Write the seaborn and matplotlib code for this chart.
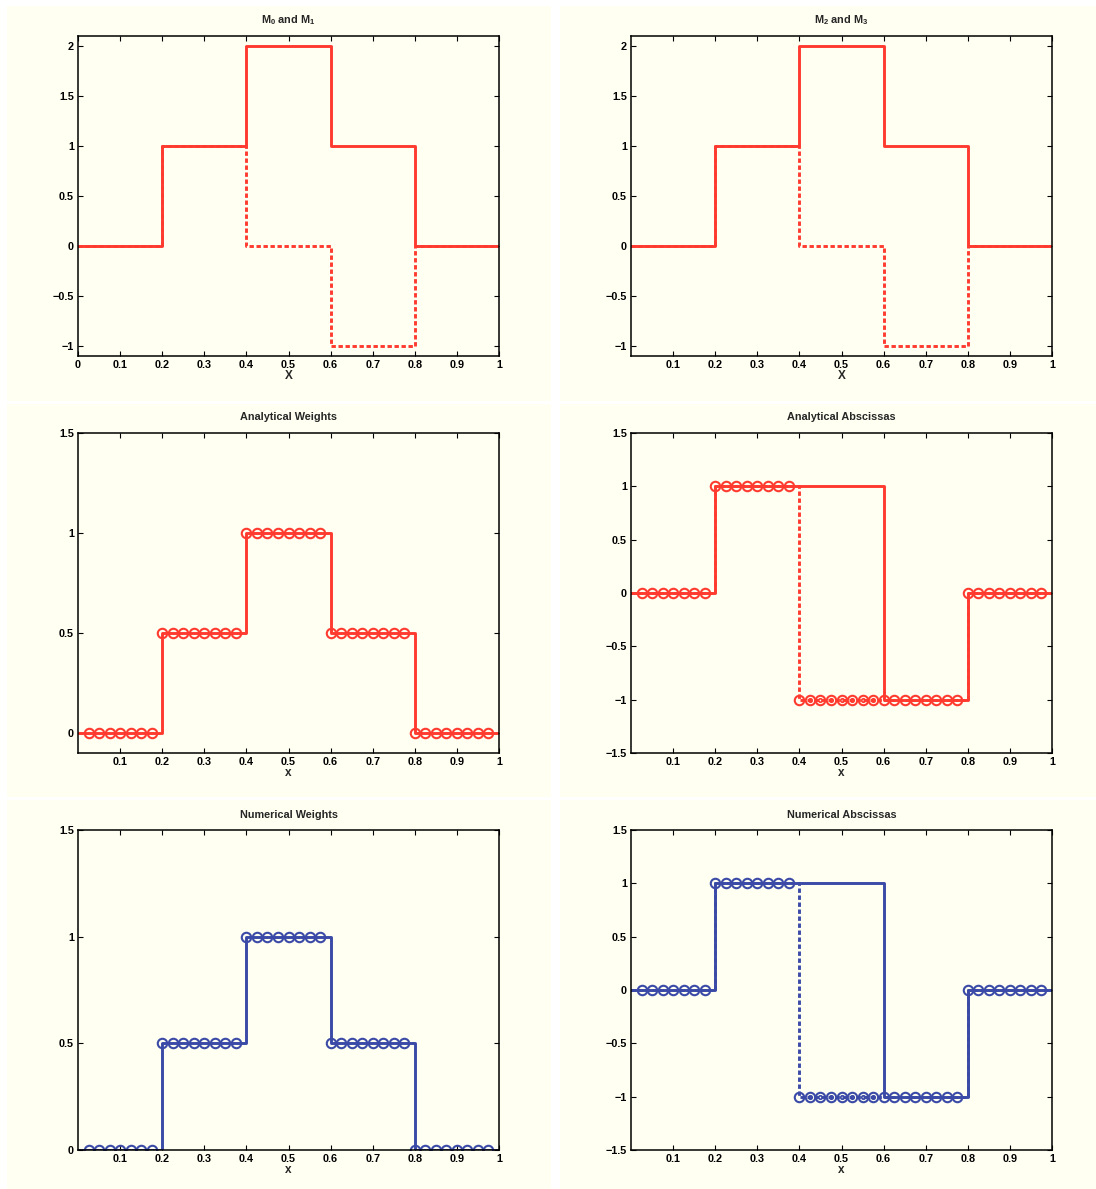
import numpy as np
import pandas as pd
import matplotlib.pyplot as plt
import matplotlib.patches as mpatches
import seaborn as sns

# step functions: value on each interval [edge_i, edge_i+1), last value repeated at x=1
edges = [0, 0.2, 0.4, 0.6, 0.8, 1.0]
m0 = [0, 1, 2, 1, 0, 0]
m1 = [0, 1, 0, -1, 0, 0]
m2 = [0, 1, 2, 1, 0, 0]
m3 = [0, 1, 0, -1, 0, 0]
weights = [0, 0.5, 1, 0.5, 0, 0]
absc_solid = [0, 1, 1, -1, 0, 0]
absc_dash = [0, 1, -1, -1, 0, 0]

# sample points (circles)
x_pts = np.round(np.arange(1, 40) * 0.025, 3)
weight_pts = [0] * 7 + [0.5] * 8 + [1] * 8 + [0.5] * 8 + [0] * 8
absc_pts = [0] * 7 + [1] * 8 + [-1] * 16 + [0] * 8
inner_x = [0.425, 0.45, 0.475, 0.5, 0.525, 0.55, 0.575]
inner_y = [-1] * 7

red = '#ff3b30'
blue = '#3a4aa6'
cream = '#fffff2'

sns.set_style('ticks')
plt.rcParams['font.family'] = ['Liberation Sans', 'DejaVu Sans']
plt.rcParams['font.weight'] = 'bold'
plt.rcParams['mathtext.fontset'] = 'custom'
plt.rcParams['mathtext.rm'] = 'Liberation Sans:bold'
plt.rcParams['mathtext.bf'] = 'Liberation Sans:bold'
plt.rcParams['mathtext.default'] = 'bf'

fig = plt.figure(figsize=(10.96, 11.89), dpi=100, facecolor='white')
W, H = 1096, 1189

# cream panel backgrounds
for (x0, x1) in [(7, 551), (560, 1096)]:
    for (y0, y1) in [(6, 401), (404, 797), (800, 1189)]:
        fig.patches.append(mpatches.Rectangle((x0 / W, 1 - y1 / H), (x1 - x0) / W, (y1 - y0) / H,
                                              transform=fig.transFigure, facecolor=cream,
                                              edgecolor='none', zorder=-10))


def make_ax(left, top):
    ax = fig.add_axes([left / W, 1 - (top + 320) / H, 421 / W, 320 / H])
    ax.set_facecolor(cream)
    for s in ax.spines.values():
        s.set_color('black')
        s.set_linewidth(1.1)
    ax.tick_params(direction='in', length=3.5, width=0.8, top=True, right=True,
                   labelsize=7.8, pad=3, colors='black')
    ax.set_xlim(0, 1)
    return ax


def step(ax, y, color, dashed=False):
    df = pd.DataFrame({'x': edges, 'y': y})
    ls = (0, (1.5, 0.9)) if dashed else '-'
    sns.lineplot(data=df, x='x', y='y', drawstyle='steps-post', color=color, linewidth=2.1,
                 linestyle=ls, estimator=None, sort=False, ax=ax)


def circles(ax, xs, ys, color, size=6.8, mew=1.5):
    df = pd.DataFrame({'x': xs, 'y': ys})
    sns.lineplot(data=df, x='x', y='y', color=color, linestyle='', marker='o', markersize=size,
                 markerfacecolor='none', markeredgecolor=color, markeredgewidth=mew,
                 estimator=None, ax=ax)


def finish(ax, title, xlabel, yticks, ylim, xticks):
    ax.set_ylim(*ylim)
    ax.set_yticks(yticks)
    ax.set_yticklabels([('%g' % t).replace('-', '\u2212') for t in yticks])
    ax.set_xticks(xticks)
    ax.set_xticklabels(['%g' % t for t in xticks])
    ax.set_title(title, fontsize=7.8, fontweight='bold', pad=9)
    ax.set_xlabel(xlabel, fontsize=8.5, fontweight='bold', labelpad=0)
    ax.set_ylabel('')


xt_full = [0, 0.1, 0.2, 0.3, 0.4, 0.5, 0.6, 0.7, 0.8, 0.9, 1]
xt = xt_full[1:]
yt_top = [-1, -0.5, 0, 0.5, 1, 1.5, 2]

# row 1
ax = make_ax(78, 36)
step(ax, m1, red, dashed=True)
step(ax, m0, red)
finish(ax, r'M$_0$ and M$_1$', 'X', yt_top, (-1.1, 2.1), xt_full)

ax = make_ax(631, 36)
step(ax, m3, red, dashed=True)
step(ax, m2, red)
finish(ax, r'M$_2$ and M$_3$', 'X', yt_top, (-1.1, 2.1), xt)

# row 2
ax = make_ax(78, 433)
step(ax, weights, red)
circles(ax, x_pts, weight_pts, red)
finish(ax, 'Analytical Weights', 'x', [0, 0.5, 1, 1.5], (-0.1, 1.5), xt)

ax = make_ax(631, 433)
step(ax, absc_dash, red, dashed=True)
step(ax, absc_solid, red)
circles(ax, x_pts, absc_pts, red)
circles(ax, inner_x, inner_y, red, size=2.5, mew=1.2)
finish(ax, 'Analytical Abscissas', 'x', [-1.5, -1, -0.5, 0, 0.5, 1, 1.5], (-1.5, 1.5), xt)

# row 3
ax = make_ax(78, 830)
step(ax, weights, blue)
circles(ax, x_pts, weight_pts, blue)
finish(ax, 'Numerical Weights', 'x', [0, 0.5, 1, 1.5], (0, 1.5), xt)

ax = make_ax(631, 830)
step(ax, absc_dash, blue, dashed=True)
step(ax, absc_solid, blue)
circles(ax, x_pts, absc_pts, blue)
circles(ax, inner_x, inner_y, blue, size=2.5, mew=1.2)
finish(ax, 'Numerical Abscissas', 'x', [-1.5, -1, -0.5, 0, 0.5, 1, 1.5], (-1.5, 1.5), xt)

fig.savefig('out.png', dpi=100, facecolor='white')
